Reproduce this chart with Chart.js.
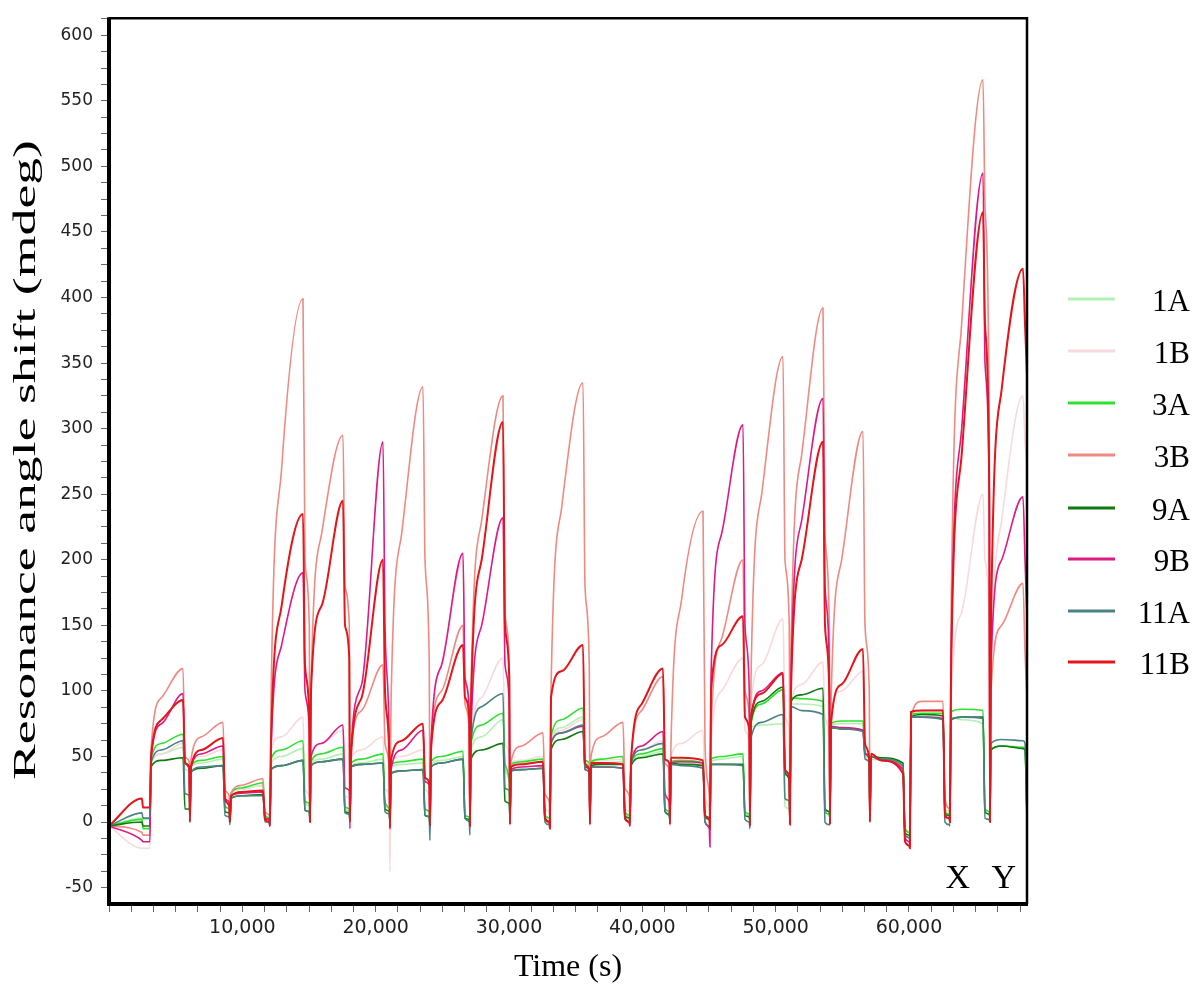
<!DOCTYPE html>
<html>
<head>
<meta charset="utf-8">
<script src="https://cdn.jsdelivr.net/npm/chart.js@4.4.0/dist/chart.umd.min.js"></script>
<style>
  html, body { margin: 0; padding: 0; background: #fff; }
</style>
</head>
<body>
<canvas id="c" width="1200" height="994"></canvas>
<script>
// time points (s), shared by all channels: start, then per injection cycle
// [regeneration spike, start, mid, end of injection, after drop, before next spike]
const times = [
  0, 2470, 2550,
  3070, 3150, 3950, 5550, 5700, 6020,
  6070, 6150, 6950, 8550, 8700, 9020,
  9070, 9150, 9950, 11550, 11700, 12020,
  12070, 12150, 12950, 14550, 14700, 15020,
  15070, 15150, 15950, 17550, 17700, 18020,
  18070, 18150, 18950, 20550, 20700, 21020,
  21070, 21150, 21950, 23550, 23700, 24020,
  24070, 24150, 24950, 26550, 26700, 27020,
  27070, 27150, 27950, 29550, 29700, 30020,
  30070, 30150, 30950, 32550, 32700, 33020,
  33070, 33150, 33950, 35550, 35700, 36020,
  36070, 36150, 36950, 38550, 38700, 39020,
  39070, 39150, 39950, 41550, 41700, 42020,
  42070, 42150, 42950, 44550, 44700, 45020,
  45070, 45150, 45950, 47550, 47700, 48020,
  48070, 48150, 48950, 50550, 50700, 51020,
  51070, 51150, 51950, 53550, 53700, 54020,
  54070, 54150, 54950, 56550, 56700, 57020,
  57070, 57150, 57950, 59550, 59700, 60020,
  60070, 60150, 60950, 62550, 62700, 63020,
  63070, 63150, 63950, 65550, 65700, 66020,
  66070, 66150, 66950, 68550, 68700, 68850
];

const ch1A = [
  -3, 3, 2,
  2, 45, 52, 57, 40, 38,
  5, 42, 45, 48, 12, 10,
  2, 22, 25, 28, 5, 3,
  0, 45, 50, 56, 14, 12,
  2, 44, 48, 52, 10, 8,
  2, 43, 45, 48, 12, 10,
  0, 42, 44, 45, 10, 8,
  -3, 44, 47, 50, 5, 4,
  -2, 55, 65, 78, 40, 30,
  2, 43, 45, 46, 5, 3,
  0, 62, 72, 80, 45, 43,
  3, 44, 45, 46, 6, 5,
  0, 44, 50, 54, 10, 8,
  2, 45, 45, 44, 4, 3,
  0, 46, 48, 50, 6, 5,
  0, 72, 74, 75, 12, 10,
  3, 90, 90, 88, 8, 6,
  3, 74, 75, 75, 50, 48,
  5, 48, 47, 45, -5, -8,
  -10, 82, 82, 80, 10, 8,
  5, 80, 78, 75, 10, 8,
  3, 55, 58, 57, 55, 3
];
const ch1B = [
  -3, -20, -20,
  -20, 45, 52, 60, 45, 42,
  5, 45, 50, 55, 20, 18,
  2, 22, 25, 28, 5, 3,
  -2, 55, 65, 80, 25, 20,
  0, 50, 60, 70, 20, 18,
  0, 48, 55, 65, 25, 20,
  -38, 45, 50, 55, 25, 20,
  -3, 55, 120, 200, 110, 90,
  -3, 60, 95, 125, 60, 50,
  0, 45, 47, 50, 10, 8,
  -2, 62, 70, 78, 45, 42,
  0, 45, 47, 48, 10, 8,
  -2, 46, 55, 62, 20, 15,
  0, 50, 60, 70, 20, 10,
  0, 60, 100, 125, 70, 60,
  0, 90, 120, 155, 80, 70,
  2, 90, 105, 122, 80, 60,
  0, 85, 100, 115, 55, 50,
  3, 50, 47, 40, -10, -12,
  -15, 82, 85, 86, 15, 10,
  5, 90, 160, 250, 200, 150,
  5, 100, 230, 325, 290, 270
];
const ch3A = [
  -3, 2, -5,
  -5, 48, 60, 67, 45, 42,
  5, 43, 47, 50, 12, 10,
  2, 22, 26, 30, 5, 3,
  0, 48, 55, 62, 16, 14,
  2, 46, 52, 57, 12, 10,
  2, 45, 48, 52, 15, 10,
  0, 44, 46, 48, 10, 8,
  -3, 46, 50, 54, 5, 4,
  -2, 60, 74, 83, 45, 30,
  2, 44, 46, 48, 5, 3,
  0, 65, 78, 87, 47, 45,
  3, 46, 48, 50, 8, 5,
  0, 45, 52, 56, 10, 8,
  2, 46, 47, 45, 5, 3,
  0, 48, 50, 52, 8, 6,
  0, 75, 90, 101, 38, 32,
  3, 95, 94, 92, 8, 6,
  3, 75, 77, 77, 52, 50,
  5, 50, 48, 45, -5, -8,
  -10, 82, 83, 83, 8, 6,
  5, 84, 86, 85, 10, 8,
  3, 55, 58, 57, 55, 0
];
const ch3B = [
  -3, -8, -10,
  -10, 55, 95, 117, 50, 46,
  5, 48, 65, 76, 25, 20,
  2, 22, 28, 33, 8, 5,
  -2, 90, 270, 399, 200, 150,
  0, 100, 220, 295, 180, 150,
  0, 55, 85, 120, 60, 40,
  -5, 90, 220, 332, 200, 120,
  -3, 60, 100, 150, 90, 70,
  -3, 100, 230, 325, 160, 120,
  0, 46, 58, 68, 22, 15,
  -3, 100, 240, 335, 180, 120,
  0, 50, 65, 76, 26, 20,
  -3, 47, 85, 111, 45, 40,
  0, 60, 170, 237, 60, 20,
  -5, 70, 140, 200, 100, 80,
  -3, 110, 250, 355, 200, 150,
  0, 130, 280, 392, 220, 150,
  0, 90, 200, 298, 150, 100,
  3, 50, 47, 42, -10, -12,
  -15, 80, 92, 92, 18, 10,
  5, 150, 380, 566, 470, 300,
  5, 100, 150, 182, 130, 95
];
const ch9A = [
  -3, 0, -3,
  -3, 42, 47, 49, 10, 10,
  8, 38, 41, 43, 8, 7,
  0, 18, 20, 21, 3, 2,
  0, 40, 43, 47, 9, 8,
  2, 43, 46, 48, 8, 7,
  2, 42, 44, 45, 10, 8,
  0, 37, 39, 40, 5, 4,
  -3, 42, 45, 48, 3, 2,
  -2, 48, 55, 60, 16, 14,
  2, 39, 40, 41, 2, 0,
  0, 55, 63, 69, 42, 40,
  2, 43, 44, 44, 5, 3,
  0, 43, 49, 52, 8, 6,
  2, 45, 44, 43, 4, 2,
  0, 44, 44, 44, 5, 4,
  0, 76, 92, 103, 38, 32,
  3, 92, 97, 102, 10, 8,
  3, 72, 71, 70, 52, 50,
  5, 50, 49, 45, -8, -10,
  -12, 80, 82, 81, 6, 5,
  3, 78, 80, 80, 8, 6,
  3, 55, 58, 56, 55, 3
];
const ch9B = [
  -3, -14, -15,
  -15, 48, 75, 98, 45, 40,
  5, 42, 52, 58, 18, 15,
  0, 20, 22, 23, 3, 2,
  -3, 55, 135, 190, 100, 70,
  0, 50, 60, 74, 26, 24,
  -5, 55, 105, 290, 150, 60,
  -3, 40, 55, 70, 31, 28,
  -3, 60, 120, 205, 110, 85,
  -3, 70, 150, 232, 120, 90,
  0, 40, 42, 43, 3, 0,
  -3, 60, 68, 73, 40, 38,
  0, 42, 42, 41, 3, 0,
  -2, 45, 58, 69, 22, 15,
  0, 45, 46, 45, 0, -5,
  -19, 110, 220, 303, 150, 100,
  -3, 80, 100, 114, 40, 35,
  0, 110, 230, 323, 180, 120,
  0, 73, 72, 70, 52, 48,
  3, 50, 47, 40, -12, -15,
  -18, 80, 80, 79, 5, 3,
  2, 120, 300, 495, 350, 250,
  0, 120, 200, 248, 200, 155
];
const ch11A = [
  -3, 7, 3,
  3, 45, 55, 62, 22, 20,
  0, 38, 42, 43, 5, 4,
  -2, 18, 20, 20, 0, 0,
  -3, 40, 43, 47, 9, 8,
  0, 43, 46, 48, 7, 6,
  0, 42, 44, 45, 8, 6,
  0, 37, 39, 40, 5, 4,
  -14, 42, 45, 48, 3, 0,
  -10, 62, 88, 98, 26, 24,
  0, 39, 40, 41, 0, -2,
  -3, 60, 68, 74, 40, 38,
  0, 42, 42, 41, 2, 0,
  -2, 45, 55, 60, 8, 5,
  0, 44, 43, 41, 0, -3,
  -5, 44, 44, 43, 2, 0,
  -5, 64, 76, 82, 18, 16,
  0, 88, 85, 82, 0, -2,
  0, 72, 71, 69, 48, 45,
  0, 50, 48, 43, -10, -12,
  -15, 80, 80, 78, 0, -2,
  -3, 78, 80, 79, 3, 2,
  0, 60, 63, 62, 60, 5
];
const ch11B = [
  -3, 18, 11,
  11, 50, 78, 93, 45, 42,
  0, 42, 55, 64, 18, 12,
  0, 20, 23, 24, 2, 0,
  -3, 60, 165, 235, 120, 80,
  0, 100, 165, 245, 150, 125,
  0, 50, 95, 200, 100, 50,
  -5, 47, 62, 75, 34, 30,
  -3, 55, 92, 135, 95, 80,
  -3, 90, 200, 305, 150, 110,
  -2, 42, 44, 46, 3, 0,
  -5, 95, 115, 135, 45, 40,
  -2, 45, 45, 44, 3, 0,
  -3, 47, 90, 117, 48, 45,
  -2, 49, 49, 47, 5, 3,
  -5, 100, 135, 157, 80, 70,
  -3, 80, 98, 113, 40, 35,
  -2, 100, 200, 290, 150, 100,
  -2, 75, 105, 132, 60, 48,
  0, 52, 47, 37, -15, -18,
  -20, 84, 85, 85, 4, 3,
  0, 110, 280, 465, 380, 250,
  0, 150, 330, 422, 380, 340
];

const seriesNames = ['1A', '1B', '3A', '3B', '9A', '9B', '11A', '11B'];
const seriesValues = [ch1A, ch1B, ch3A, ch3B, ch9A, ch9B, ch11A, ch11B];
const seriesColors = ['#b4f0b4', '#f8d9dc', '#2ee12e', '#ee8a82', '#117a11', '#de1a85', '#4b8282', '#e3161b'];

const xTickLabels = [10000, 20000, 30000, 40000, 50000, 60000];
const yTickLabels = [-50, 0, 50, 100, 150, 200, 250, 300, 350, 400, 450, 500, 550, 600];
const markerLabels = ['X', 'Y'];
const markerTimes = [63650, 67100];

const xMin = 0, xMax = 68850, yMin = -62.5, yMax = 613;

const xMinor = [];
for (let v = 0; v <= xMax; v += 10000 / 6) xMinor.push(v);
const yMinor = [];
for (let v = -50; v <= 612.5; v += 12.5) yMinor.push(v);

const datasets = seriesNames.map((name, i) => ({
  label: name,
  data: times.map((t, j) => ({ x: t, y: seriesValues[i][j] })),
  borderColor: seriesColors[i],
  borderWidth: name === '11B' ? 2 : 1.6,
  pointRadius: 0,
  fill: false,
  cubicInterpolationMode: 'monotone',
  order: seriesNames.length - i
}));

const decor = {
  id: 'decor',
  afterDatasetsDraw(chart) {
    const { ctx, chartArea: a, scales } = chart;
    ctx.save();
    ctx.strokeStyle = '#000';
    ctx.lineWidth = 2.5;
    ctx.beginPath();
    ctx.moveTo(a.left, a.top);
    ctx.lineTo(a.right, a.top);
    ctx.lineTo(a.right, a.bottom);
    ctx.stroke();
    ctx.lineWidth = 4;
    ctx.beginPath();
    ctx.moveTo(a.left, a.top - 1);
    ctx.lineTo(a.left, a.bottom);
    ctx.lineTo(a.right + 1, a.bottom);
    ctx.stroke();

    ctx.fillStyle = '#000';
    ctx.font = '34px "Liberation Serif"';
    ctx.textAlign = 'center';
    ctx.textBaseline = 'alphabetic';
    markerLabels.forEach((m, i) => {
      ctx.fillText(m, scales.x.getPixelForValue(markerTimes[i]), 888);
    });
    ctx.restore();
  },
  afterDraw(chart) {
    const { ctx } = chart;
    ctx.save();
    // legend
    const legendY = [299, 351, 403, 455, 508, 559, 611, 662];
    seriesNames.forEach((name, i) => {
      ctx.strokeStyle = seriesColors[i];
      ctx.lineWidth = 3;
      ctx.beginPath();
      ctx.moveTo(1068, legendY[i]);
      ctx.lineTo(1115, legendY[i]);
      ctx.stroke();
      ctx.fillStyle = '#000';
      ctx.font = '31px "Liberation Serif"';
      ctx.textAlign = 'right';
      ctx.textBaseline = 'middle';
      ctx.fillText(name, 1190, legendY[i] + 4);
    });
    // y axis title, stretched along its length like the original
    const title = 'Resonance angle shift (mdeg)';
    ctx.font = '32px "Liberation Serif"';
    const w = ctx.measureText(title).width;
    ctx.translate(27, 460);
    ctx.rotate(-Math.PI / 2);
    ctx.scale(640 / w, 1);
    ctx.textAlign = 'center';
    ctx.textBaseline = 'middle';
    ctx.fillText(title, 0, 0);
    ctx.restore();
  }
};

new Chart(document.getElementById('c'), {
  type: 'line',
  data: { datasets },
  options: {
    responsive: false,
    animation: false,
    devicePixelRatio: 1,
    layout: { padding: { top: 7, right: 173, left: 0, bottom: 0 } },
    plugins: { legend: { display: false }, tooltip: { enabled: false } },
    scales: {
      x: {
        type: 'linear',
        min: xMin,
        max: xMax,
        afterFit: (s) => { s.height = 90; },
        afterBuildTicks: (s) => { s.ticks = xMinor.map(v => ({ value: v })); },
        border: { display: false },
        grid: { drawOnChartArea: false, tickLength: 8, tickColor: '#666', tickWidth: 1 },
        ticks: {
          autoSkip: false,
          maxRotation: 0,
          padding: 5,
          color: '#222',
          font: { family: 'DejaVu Sans', size: 19 },
          callback: (v) => {
            const l = xTickLabels.find(t => Math.abs(t - v) < 1);
            return l ? l.toLocaleString('en-US') : '';
          }
        },
        title: {
          display: true,
          text: 'Time (s)',
          color: '#000',
          font: { family: 'Liberation Serif', size: 32 },
          padding: { top: 0, bottom: 7 }
        }
      },
      y: {
        type: 'linear',
        min: yMin,
        max: yMax,
        afterFit: (s) => { s.width = 109; },
        afterBuildTicks: (s) => { s.ticks = yMinor.map(v => ({ value: v })); },
        border: { display: false },
        grid: { drawOnChartArea: false, tickLength: 8, tickColor: '#666', tickWidth: 1 },
        ticks: {
          autoSkip: false,
          padding: 8,
          color: '#222',
          font: { family: 'DejaVu Sans', size: 17 },
          callback: (v) => yTickLabels.includes(v) ? String(v) : ''
        }
      }
    }
  },
  plugins: [decor]
});
</script>
</body>
</html>
